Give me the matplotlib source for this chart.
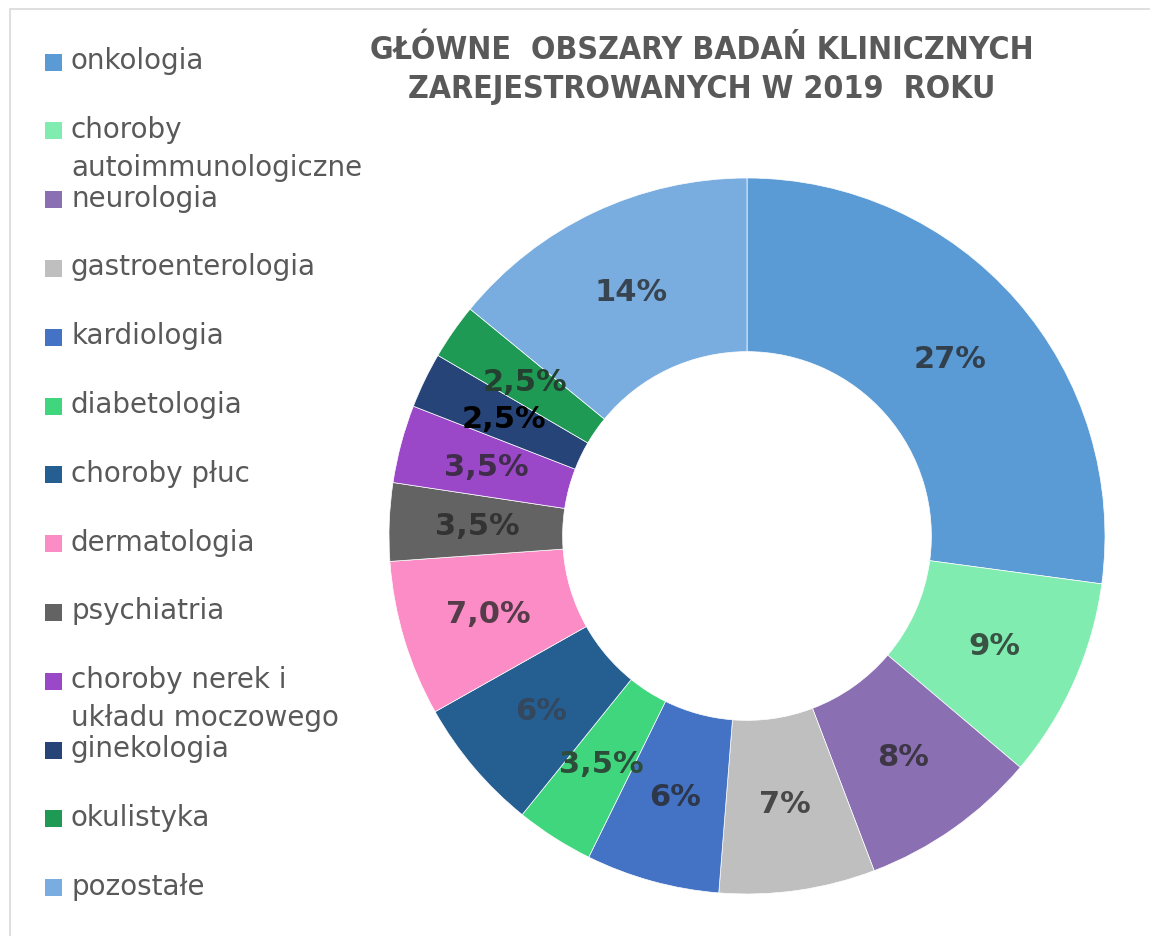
import numpy as np
import matplotlib
matplotlib.use("Agg")
import matplotlib.pyplot as plt
from matplotlib.patches import Rectangle
from matplotlib.colors import to_rgb

# data (percent of registered trials, 2019)
categories = [
    "onkologia",
    "choroby\nautoimmunologiczne",
    "neurologia",
    "gastroenterologia",
    "kardiologia",
    "diabetologia",
    "choroby płuc",
    "dermatologia",
    "psychiatria",
    "choroby nerek i\nukładu moczowego",
    "ginekologia",
    "okulistyka",
    "pozostałe",
]
shares = [27, 9, 8, 7, 6, 3.5, 6, 7.0, 3.5, 3.5, 2.5, 2.5, 14]
share_labels = ["27%", "9%", "8%", "7%", "6%", "3,5%", "6%", "7,0%",
                "3,5%", "3,5%", "2,5%", "2,5%", "14%"]

colors = ["#5b9bd5", "#80ecb0", "#8a6fb2", "#bfbfbf", "#4472c4", "#3fd67e",
          "#255e91", "#fb8cc6", "#636363", "#9a48c8", "#264478", "#1f9a55",
          "#7aaddf"]

title = "GŁÓWNE  OBSZARY BADAŃ KLINICZNYCH\nZAREJESTROWANYCH W 2019  ROKU"

W, H = 1150, 937
fig = plt.figure(figsize=(W / 100, H / 100), dpi=100)
fig.patch.set_facecolor("white")

# thin frame like the exported chart area
fig.patches.append(Rectangle((10 / W, -0.1), 1.2, (H - 10) / H + 0.1,
                             transform=fig.transFigure, fill=False,
                             edgecolor="#d9d9d9", linewidth=1.2))

cx, cy, R = 747, 537, 358
ax = fig.add_axes([(cx - R) / W, (H - cy - R) / H, 2 * R / W, 2 * R / H])

wedges, texts = ax.pie(
    shares, colors=colors, startangle=90, counterclock=False, radius=1.0,
    labels=share_labels, labeldistance=0.755,
    wedgeprops=dict(width=0.485, edgecolor="white", linewidth=0.5),
    textprops=dict(fontsize=22, fontweight="bold", ha="center", va="center"),
)
# pie() sets its own limits, so fix them afterwards
ax.set_xlim(-1, 1)
ax.set_ylim(-1, 1)
ax.set_aspect("equal")
ax.axis("off")

# label text is a dark grey that picks up a tint from its slice
dark = np.array(to_rgb("#262626"))
for t, c in zip(texts, colors):
    t.set_color(tuple(0.78 * dark + 0.22 * np.array(to_rgb(c))))
texts[10].set_color("black")
texts[6].set_color("#34475c")  # low-contrast label on the dark blue slice

fig.text(702 / W, 1 - 70 / H, title, ha="center", va="center",
         fontsize=23, fontweight="bold", color="#595959",
         family="DejaVu Sans", fontstretch="condensed", linespacing=1.3)

# legend drawn by hand (the two-line entries overlap the next row)
y0, step, line_h = 63, 68.8, 38
for i, (name, c) in enumerate(zip(categories, colors)):
    y = y0 + i * step
    fig.patches.append(Rectangle((45 / W, 1 - (y + 8.5) / H), 17 / W, 17 / H,
                                 transform=fig.transFigure, facecolor=c,
                                 edgecolor="none"))
    for k, line in enumerate(name.split("\n")):
        fig.text(71 / W, 1 - (y - 2 + k * line_h) / H, line, ha="left",
                 va="center", fontsize=20, color="#595959",
                 family="DejaVu Sans")

fig.savefig("out.png", dpi=100, facecolor="white")
